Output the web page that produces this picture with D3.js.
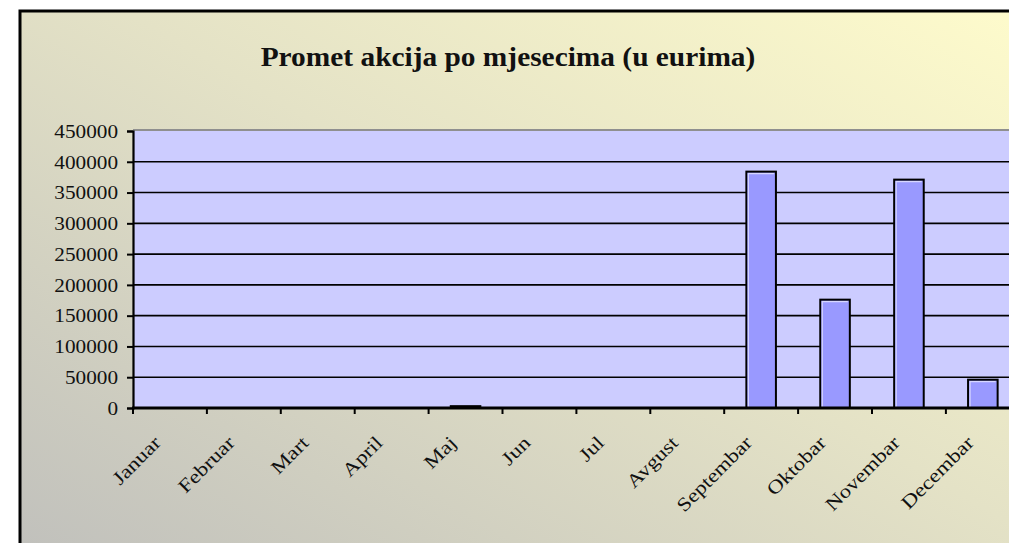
<!DOCTYPE html>
<html>
<head>
<meta charset="utf-8">
<script src="https://cdn.jsdelivr.net/npm/d3@7"></script>
<style>
  body { margin: 0; background: #fff; overflow: hidden; }
  svg { display: block; }
  text { font-family: "Liberation Serif", "Times New Roman", serif; fill: #111; }
</style>
</head>
<body>
<svg id="chart" width="1009" height="543"></svg>
<script>
const months = ["Januar", "Februar", "Mart", "April", "Maj", "Jun", "Jul",
  "Avgust", "Septembar", "Oktobar", "Novembar", "Decembar"];
const turnover = [0, 0, 0, 0, 3000, 0, 0, 0, 384000, 176000, 371000, 46000];
const yTicks = [0, 50000, 100000, 150000, 200000, 250000, 300000, 350000, 400000, 450000];
const title = "Promet akcija po mjesecima (u eurima)";

const svg = d3.select("#chart");

const defs = svg.append("defs");
const grad = defs.append("linearGradient")
  .attr("id", "bg")
  .attr("x1", 0).attr("y1", 1)
  .attr("x2", 1).attr("y2", 0);
grad.append("stop").attr("offset", "0%").attr("stop-color", "#bdbdbb");
grad.append("stop").attr("offset", "55%").attr("stop-color", "#e4e2c6");
grad.append("stop").attr("offset", "100%").attr("stop-color", "#fffccc");

// chart area (runs past the right and bottom edge, as in the picture)
svg.append("rect")
  .attr("x", 20).attr("y", 11)
  .attr("width", 1040).attr("height", 600)
  .attr("fill", "url(#bg)")
  .attr("stroke", "#000")
  .attr("stroke-width", 3);

svg.append("text")
  .attr("text-anchor", "middle")
  .attr("transform", "translate(508,66) scale(1.05,1)")
  .style("font-size", "28px")
  .style("font-weight", "bold")
  .text(title);

const plotLeft = 133, plotTop = 131, plotBottom = 408;
const plotRight = plotLeft + 12 * 73.9;

const xBand = d3.scaleBand().domain(months).range([plotLeft, plotRight]);
const x = d3.scaleBand()
  .domain(months)
  .range([plotLeft, plotRight])
  .paddingInner(0.6)
  .paddingOuter(0.3);

const y = d3.scaleLinear().domain([0, 450000]).range([plotBottom, plotTop]);

// plot area
svg.append("rect")
  .attr("x", plotLeft).attr("y", plotTop - 2)
  .attr("width", plotRight - plotLeft).attr("height", 2)
  .attr("fill", "#8f8f8f");
svg.append("rect")
  .attr("x", plotLeft).attr("y", plotTop)
  .attr("width", plotRight - plotLeft).attr("height", plotBottom - plotTop)
  .attr("fill", "#ccccff");

// gridlines
svg.append("g")
  .selectAll("line")
  .data(yTicks.filter(d => d > 0 && d < 450000))
  .join("line")
  .attr("x1", plotLeft).attr("x2", plotRight)
  .attr("y1", d => y(d)).attr("y2", d => y(d))
  .attr("stroke", "#000")
  .attr("stroke-width", 1.6);

// bars
const bars = svg.append("g")
  .selectAll("g")
  .data(months.map((m, i) => ({ m, v: turnover[i] })).filter(d => d.v > 0))
  .join("g");
bars.append("rect")
  .attr("x", d => x(d.m))
  .attr("y", d => y(d.v))
  .attr("width", x.bandwidth())
  .attr("height", d => plotBottom - y(d.v))
  .attr("fill", "#9999ff")
  .attr("stroke", "#000")
  .attr("stroke-width", 2);
bars.filter(d => plotBottom - y(d.v) > 6).append("polyline")
  .attr("points", d => {
    const x0 = x(d.m) + 2, y0 = y(d.v) + 2;
    return `${x0},${plotBottom} ${x0},${y0} ${x0 + x.bandwidth() - 4},${y0}`;
  })
  .attr("fill", "none")
  .attr("stroke", "#d6d6ff")
  .attr("stroke-width", 1.2);

// y axis
const yAxis = svg.append("g")
  .attr("transform", `translate(${plotLeft},0)`)
  .call(d3.axisLeft(y).tickValues(yTicks).tickSize(6).tickPadding(8).tickFormat(d3.format("d")));
yAxis.select(".domain").attr("stroke", "#000").attr("stroke-width", 2.2);
yAxis.selectAll(".tick line").attr("stroke", "#000").attr("stroke-width", 2);
yAxis.selectAll(".tick text")
  .style("font-size", "18px")
  .attr("x", 0)
  .attr("dy", "0.35em")
  .attr("transform", "translate(-15,0) scale(1.18,1)");

// x axis
const xAxisG = svg.append("g");
xAxisG.append("line")
  .attr("x1", plotLeft - 1).attr("x2", plotRight)
  .attr("y1", plotBottom).attr("y2", plotBottom)
  .attr("stroke", "#000").attr("stroke-width", 3);
xAxisG.selectAll("line.tick")
  .data(months)
  .join("line")
  .attr("class", "tick")
  .attr("x1", d => xBand(d)).attr("x2", d => xBand(d))
  .attr("y1", plotBottom).attr("y2", plotBottom + 6)
  .attr("stroke", "#000").attr("stroke-width", 2);
xAxisG.selectAll("text")
  .data(months)
  .join("text")
  .attr("text-anchor", "end")
  .style("font-size", "19px")
  .attr("transform", d => `translate(${xBand(d) + xBand.bandwidth() / 2 - 8},${plotBottom + 36}) rotate(-45) scale(1.2,1)`)
  .text(d => d);
</script>
</body>
</html>
